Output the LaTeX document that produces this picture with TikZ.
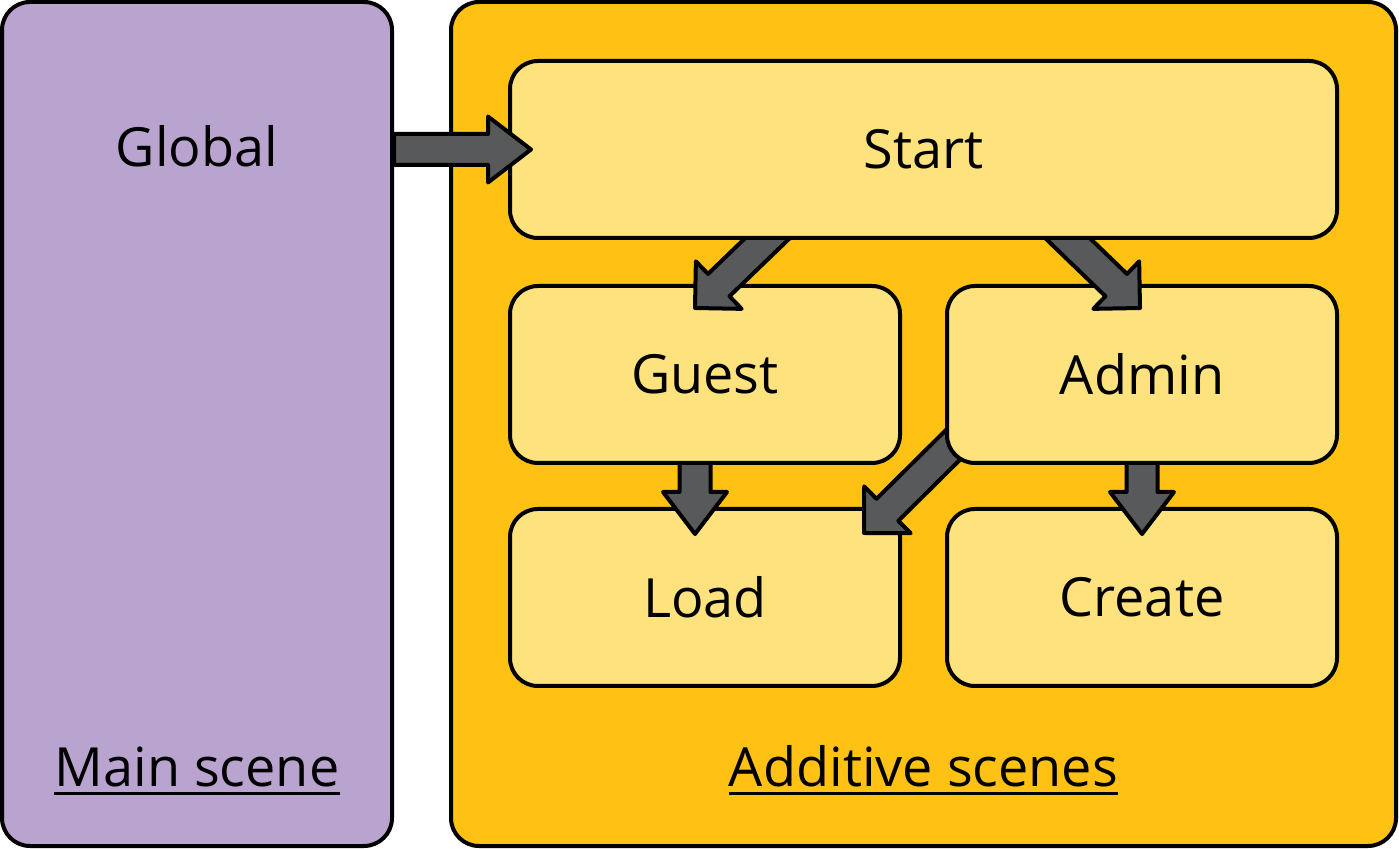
\documentclass[tikz,border=0pt]{standalone}
\usepackage{fontspec}
\setmainfont{Open Sans}
\usetikzlibrary{calc}
\definecolor{mainc}{HTML}{B9A3CF}
\definecolor{addc}{HTML}{FFC214}
\definecolor{boxc}{HTML}{FDE27E}
\definecolor{arrc}{HTML}{58595B}
\pgfdeclarelayer{l1}\pgfdeclarelayer{l2}\pgfdeclarelayer{l3}\pgfdeclarelayer{l4}
\pgfdeclarelayer{l5}\pgfdeclarelayer{l6}\pgfdeclarelayer{l7}
\pgfsetlayers{l1,l2,l3,l4,l5,l6,l7,main}
\tikzset{
  panel/.style={draw=black, line width=4pt, rounded corners=28pt, inner sep=0pt},
  scenebox/.style={panel, fill=boxc, minimum width=390pt, minimum height=177pt,
    font=\fontsize{54}{64}\selectfont},
  barrow/.style={draw=black, fill=arrc, line width=4pt, line join=round},
  caption/.style={inner sep=0pt, anchor=base, font=\fontsize{54}{64}\selectfont},
  uline/.style={line width=3pt},
}
% #1 from, #2 tip, #3 shaft half width, #4 head half width, #5 head length
\newcommand\blockarrow[5]{%
  \path coordinate (hb) at ($(#2)!#5!(#1)$);
  \draw[barrow] ($(#1)!#3!90:(#2)$) -- ($(hb)!#3!-90:(#1)$) -- ($(hb)!#4!-90:(#1)$)
    -- (#2) -- ($(hb)!#4!90:(#1)$) -- ($(hb)!#3!90:(#1)$) -- ($(#1)!#3!-90:(#2)$) -- cycle;
}
\begin{document}
\begin{tikzpicture}[x=1pt,y=1pt]
\useasboundingbox (0,0) rectangle (1399,848);
% panels and boxes
\node[panel, fill=mainc, minimum width=390pt, minimum height=844pt] (Main) at (197,424) {};
\begin{pgfonlayer}{l1}
\node[panel, fill=addc, minimum width=945pt, minimum height=844pt] (Add) at (923.5,424) {};
\end{pgfonlayer}
\begin{pgfonlayer}{l2}
\node[scenebox] (Load) at (705,250.5) {Load};
\node[scenebox] (Create) at (1142,250.5) {Create};
\end{pgfonlayer}
\begin{pgfonlayer}{l4}
\node[scenebox] (Guest) at (705,473.5) {Guest};
\node[scenebox] (Admin) at (1142,473.5) {Admin};
\end{pgfonlayer}
\begin{pgfonlayer}{l6}
\node[scenebox, minimum width=827pt] (Start) at (923.5,698.5) {Start};
\end{pgfonlayer}
% texts in main panel
\node[font=\fontsize{54}{64}\selectfont, inner sep=0pt] (Global) at (197,702) {Global};
\node[caption] (mainlbl) at (197,61) {Main scene};
\draw[uline] ([yshift=-7pt]mainlbl.base west) -- ([yshift=-7pt]mainlbl.base east);
\node[caption] (addlbl) at (923.5,61) {Additive scenes};
\draw[uline] ([yshift=-7pt]addlbl.base west) -- ([yshift=-7pt]addlbl.base east);
% connector end points
\coordinate (gsA) at ($(Main.east |- Start.west)$);
\coordinate (gsB) at ($(Start.west)+(23,0)$);
\coordinate (sgA) at ($(Start.south)+(-118.5,38)$);
\coordinate (sgB) at ($(Guest.north)+(-10,-24)$);
\coordinate (saA) at ($(Start.south)+(106.5,38)$);
\coordinate (saB) at ($(Admin.north)+(-2,-24)$);
\coordinate (glA) at ($(Guest.south)+(-10,23)$);
\coordinate (glB) at ($(Load.north)+(-10,-27)$);
\coordinate (acA) at ($(Admin.south)+(0,23)$);
\coordinate (acB) at ($(Create.north)+(0,-27)$);
\coordinate (alA) at ($(Admin.south west)+(23,35)$);
\coordinate (alB) at ($(Load.north east)+(-38,-26)$);
% connectors
\begin{pgfonlayer}{l3}
\blockarrow{glA}{glB}{15.5pt}{32pt}{42pt}
\blockarrow{acA}{acB}{15.5pt}{32pt}{42pt}
\blockarrow{alA}{alB}{15.5pt}{33pt}{33pt}
\end{pgfonlayer}
\begin{pgfonlayer}{l5}
\blockarrow{sgA}{sgB}{15.5pt}{33pt}{33pt}
\blockarrow{saA}{saB}{15.5pt}{33pt}{33pt}
\end{pgfonlayer}
\begin{pgfonlayer}{l7}
\blockarrow{gsA}{gsB}{15.5pt}{33pt}{43pt}
\end{pgfonlayer}
\end{tikzpicture}
\end{document}
